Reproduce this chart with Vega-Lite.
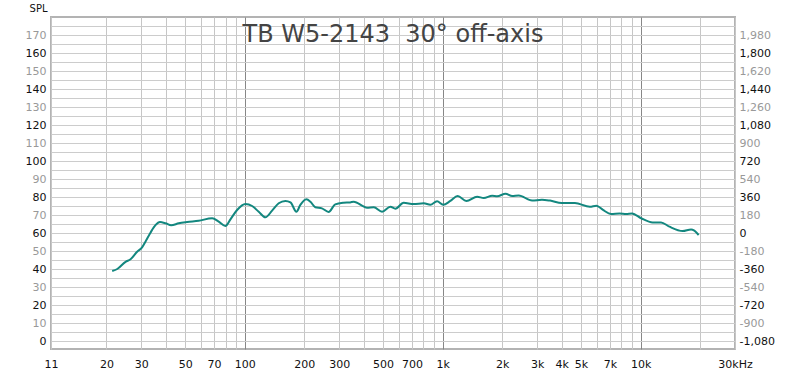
{
  "$schema": "https://vega.github.io/schema/vega-lite/v6.json",
  "width": 684,
  "height": 332,
  "autosize": "none",
  "padding": {"left": 51, "top": 17, "right": 65, "bottom": 23},
  "background": "white",
  "config": {
    "view": {"stroke": "#b3b3b3", "strokeWidth": 2},
    "font": "DejaVu Sans"
  },
  "title": {
    "text": "TB W5-2143 \u00a030° off-axis",
    "font": "DejaVu Sans",
    "fontSize": 24,
    "fontWeight": "normal",
    "color": "#444444",
    "anchor": "middle",
    "frame": "group",
    "baseline": "alphabetic",
    "offset": 0,
    "dy": 63
  },
  "data": {
    "values": [
      {"f": 21.4, "spl": 38.9},
      {"f": 22.7, "spl": 40.0},
      {"f": 25.0, "spl": 44.0},
      {"f": 26.5, "spl": 45.4},
      {"f": 28.6, "spl": 49.6},
      {"f": 30.3, "spl": 52.0},
      {"f": 31.5, "spl": 55.2},
      {"f": 33.4, "spl": 60.2},
      {"f": 35.4, "spl": 64.4},
      {"f": 37.3, "spl": 66.1},
      {"f": 39.8, "spl": 65.4},
      {"f": 42.5, "spl": 64.3},
      {"f": 46.4, "spl": 65.4},
      {"f": 51.2, "spl": 66.1},
      {"f": 58.5, "spl": 66.8},
      {"f": 68.5, "spl": 68.2},
      {"f": 73.9, "spl": 66.3},
      {"f": 79.9, "spl": 63.9},
      {"f": 84.7, "spl": 67.6},
      {"f": 91.5, "spl": 72.8},
      {"f": 100.8, "spl": 76.1},
      {"f": 109, "spl": 75.0},
      {"f": 117.7, "spl": 71.8},
      {"f": 127.2, "spl": 68.7},
      {"f": 137.5, "spl": 72.4},
      {"f": 148.5, "spl": 76.5},
      {"f": 160.5, "spl": 77.8},
      {"f": 170.3, "spl": 77.0},
      {"f": 182.4, "spl": 71.8},
      {"f": 191, "spl": 75.6},
      {"f": 204.9, "spl": 78.7},
      {"f": 214.7, "spl": 77.4},
      {"f": 227.3, "spl": 74.3},
      {"f": 245.5, "spl": 73.7},
      {"f": 265.3, "spl": 71.7},
      {"f": 286.6, "spl": 75.9},
      {"f": 315.5, "spl": 76.8},
      {"f": 341, "spl": 77.0},
      {"f": 355, "spl": 77.4},
      {"f": 415, "spl": 74.1},
      {"f": 449, "spl": 74.3},
      {"f": 494, "spl": 71.8},
      {"f": 544, "spl": 74.6},
      {"f": 577, "spl": 73.5},
      {"f": 635, "spl": 76.8},
      {"f": 714, "spl": 76.1},
      {"f": 803, "spl": 76.5},
      {"f": 867, "spl": 75.7},
      {"f": 937, "spl": 77.6},
      {"f": 1006, "spl": 75.7},
      {"f": 1094, "spl": 77.8},
      {"f": 1191, "spl": 80.5},
      {"f": 1318, "spl": 77.8},
      {"f": 1494, "spl": 80.2},
      {"f": 1613, "spl": 79.4},
      {"f": 1779, "spl": 80.7},
      {"f": 1886, "spl": 80.4},
      {"f": 2078, "spl": 81.8},
      {"f": 2245, "spl": 80.5},
      {"f": 2423, "spl": 80.9},
      {"f": 2830, "spl": 78.0},
      {"f": 3176, "spl": 78.5},
      {"f": 3491, "spl": 78.0},
      {"f": 3996, "spl": 76.7},
      {"f": 4660, "spl": 76.7},
      {"f": 5543, "spl": 74.6},
      {"f": 5986, "spl": 75.2},
      {"f": 6460, "spl": 72.8},
      {"f": 7114, "spl": 70.6},
      {"f": 7831, "spl": 70.9},
      {"f": 8457, "spl": 70.6},
      {"f": 9060, "spl": 70.9},
      {"f": 10070, "spl": 68.2},
      {"f": 11510, "spl": 65.9},
      {"f": 12685, "spl": 65.9},
      {"f": 13986, "spl": 63.5},
      {"f": 16320, "spl": 61.1},
      {"f": 17990, "spl": 62.0},
      {"f": 18700, "spl": 61.3},
      {"f": 19660, "spl": 58.9}
    ]
  },
  "layer": [
    {
      "mark": {"type": "line", "color": "#13877f", "strokeWidth": 2, "interpolate": "monotone"},
      "encoding": {
        "x": {
          "field": "f",
          "type": "quantitative",
          "scale": {"type": "log", "domain": [10.5, 30000], "nice": false},
          "axis": {
            "title": null,
            "values": [10.5, 20, 30, 40, 50, 60, 70, 80, 90, 100, 200, 300, 400, 500, 600, 700, 800, 900, 1000, 2000, 3000, 4000, 5000, 6000, 7000, 8000, 9000, 10000, 20000, 30000],
            "labelExpr": "datum.value < 11 ? '11' : datum.value == 30000 ? '30kHz' : indexof([20,30,50,70,100,200,300,500,700], datum.value) >= 0 ? ('' + datum.value) : indexof([1000,2000,3000,4000,5000,7000,10000], datum.value) >= 0 ? ((datum.value / 1000) + 'k') : ''",
            "labelFont": "DejaVu Sans",
            "labelFontSize": 11,
            "labelColor": "#111111",
            "labelPadding": 9,
            "labelOverlap": false,
            "labelFlush": false,
            "labelBound": false,
            "ticks": false,
            "domain": false,
            "grid": true,
            "gridColor": {"condition": {"test": "datum.value == 100 || datum.value == 1000 || datum.value == 10000", "value": "#878787"}, "value": "#c6c6c6"},
            "gridWidth": 1
          }
        },
        "y": {
          "field": "spl",
          "type": "quantitative",
          "scale": {"domain": [-4.44, 180], "nice": false, "zero": false},
          "axis": {
            "orient": "left",
            "title": "SPL",
            "titleAngle": 0,
            "titleX": -13,
            "titleY": -6,
            "titleAlign": "center",
            "titleBaseline": "alphabetic",
            "titleFont": "DejaVu Sans",
            "titleFontSize": 10,
            "titleFontWeight": "normal",
            "titleColor": "#111111",
            "values": [0, 5, 10, 15, 20, 25, 30, 35, 40, 45, 50, 55, 60, 65, 70, 75, 80, 85, 90, 95, 100, 105, 110, 115, 120, 125, 130, 135, 140, 145, 150, 155, 160, 165, 170, 175],
            "labelExpr": "datum.value % 10 == 0 ? ('' + datum.value) : ''",
            "labelFont": "DejaVu Sans",
            "labelFontSize": 11,
            "labelColor": {"condition": {"test": "datum.value % 20 == 0", "value": "#111111"}, "value": "#999999"},
            "labelPadding": 5,
            "labelOverlap": false,
            "labelFlush": false,
            "labelBound": false,
            "ticks": false,
            "domain": false,
            "grid": true,
            "gridColor": "#cccccc",
            "gridWidth": 1
          }
        }
      }
    },
    {
      "mark": {"type": "rule", "opacity": 0},
      "encoding": {
        "y": {
          "datum": 0,
          "type": "quantitative",
          "scale": {"domain": [-1160, 2160], "nice": false, "zero": false},
          "axis": {
            "orient": "right",
            "title": null,
            "values": [-1080, -900, -720, -540, -360, -180, 0, 180, 360, 540, 720, 900, 1080, 1260, 1440, 1620, 1800, 1980],
            "labelExpr": "replace(format(datum.value, ','), '\u2212', '-')",
            "labelFont": "DejaVu Sans",
            "labelFontSize": 11,
            "labelColor": {"condition": {"test": "datum.value % 360 == 0", "value": "#111111"}, "value": "#999999"},
            "labelPadding": 4,
            "labelOverlap": false,
            "labelFlush": false,
            "labelBound": false,
            "ticks": false,
            "domain": false,
            "grid": false
          }
        }
      }
    }
  ],
  "resolve": {"scale": {"y": "independent"}}
}
